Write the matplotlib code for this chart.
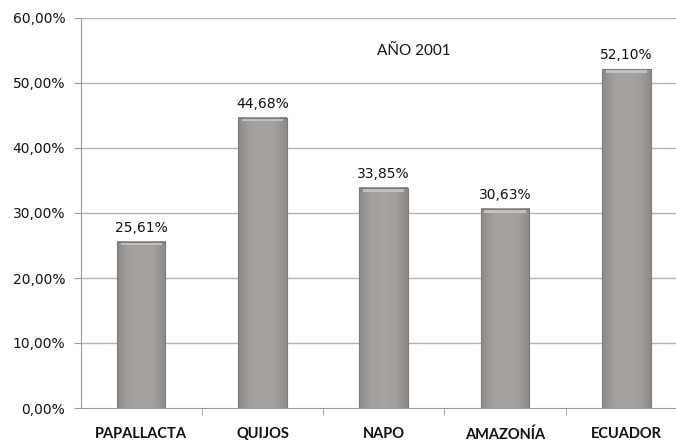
import numpy as np
import matplotlib
matplotlib.use("Agg")
import matplotlib.pyplot as plt
from matplotlib.colors import LinearSegmentedColormap

categories = ["PAPALLACTA", "QUIJOS", "NAPO", "AMAZONÍA", "ECUADOR"]
values = [25.61, 44.68, 33.85, 30.63, 52.10]
yticks = [0, 10, 20, 30, 40, 50, 60]
title = "AÑO 2001"


def pct(v):
    return f"{v:.2f}".replace(".", ",") + "%"


fig = plt.figure(figsize=(6.76, 4.45), dpi=100)
ax = fig.add_axes([80.5 / 676, 37 / 445, 606.5 / 676, 390 / 445])

x = np.arange(len(categories))
width = 0.4

# horizontal gridlines
for t in yticks[1:]:
    ax.axhline(t, color="#b3b3b3", lw=1.0, zorder=0)

# bevelled grey bars: horizontal shading with a lighter top cap
shade = LinearSegmentedColormap.from_list(
    "bar", ["#8e8a87", "#a39f9c", "#a7a3a0", "#a39f9c", "#8e8a87"])
grad = np.linspace(0, 1, 64).reshape(1, -1)
for xi, v in zip(x, values):
    x0, x1 = xi - width / 2, xi + width / 2
    ax.imshow(grad, cmap=shade, aspect="auto", extent=(x0, x1, 0, v),
              zorder=2, interpolation="bilinear")
    ax.fill_between([x0 + 0.03, x1 - 0.03], v - 0.6, v, color="#c4c1bf",
                    zorder=3, lw=0)
    ax.plot([x0, x0, x1, x1], [0, v, v, 0], color="#7d7976", lw=0.8, zorder=4)
    ax.annotate(pct(v), (xi, v), xytext=(0, 5), textcoords="offset points",
                ha="center", va="bottom", fontsize=10, color="#111111",
                family="DejaVu Sans")

ax.set_xlim(-0.5, len(categories) - 0.5)
ax.set_ylim(0, 60)

for s in ["top", "right"]:
    ax.spines[s].set_visible(False)
ax.spines["left"].set_color("#9a9a9a")
ax.spines["bottom"].set_color("#9a9a9a")

ax.set_yticks(yticks)
ax.set_yticklabels([pct(t) for t in yticks], fontsize=10, color="#111111",
                   family="DejaVu Sans")
ax.tick_params(axis="y", length=5, color="#9a9a9a", pad=6)

ax.set_xticks(x)
ax.set_xticklabels(categories, fontsize=10.5, color="#111111", family="Lato",
                   fontweight="bold")
ax.tick_params(axis="x", length=0, pad=14)
ax.set_xticks(np.arange(0.5, len(categories) - 0.5), minor=True)
ax.tick_params(axis="x", which="minor", length=5, color="#9a9a9a")

fig.text(414 / 676, 1 - 51 / 445, title, ha="center", va="center",
         fontsize=11, family="Lato", color="#111111")

fig.savefig("out.png", dpi=100)
